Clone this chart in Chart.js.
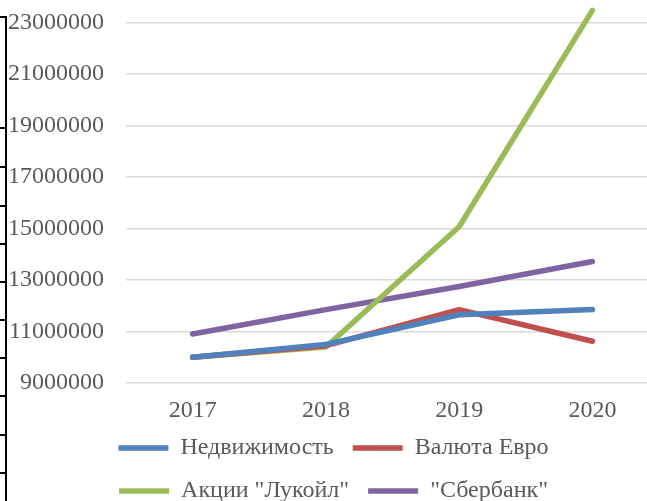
<!DOCTYPE html>
<html>
<head>
<meta charset="utf-8">
<script src="https://cdn.jsdelivr.net/npm/chart.js@4"></script>
<style>
  html, body { margin: 0; padding: 0; background: #fff; overflow: hidden; }
  body { width: 647px; height: 501px; position: relative; }
  #wrap { position: absolute; left: 0; top: -50px; width: 680px; height: 563px; }
  .frame { position: absolute; background: #000; }
</style>
</head>
<body>
<div id="wrap"><canvas id="chart"></canvas></div>
<div id="frame"></div>
<script>
"use strict";

// Chart data
const years = ['2017', '2018', '2019', '2020'];
const realEstate = [10000000, 10500000, 11650000, 11850000];
const euro = [10000000, 10450000, 11850000, 10620000];
const lukoil = [10000000, 10400000, 15070000, 23470000];
const sberbank = [10900000, 11850000, 12750000, 13720000];
const seriesNames = ['Недвижимость', 'Валюта Евро', 'Акции "Лукойл"', '"Сбербанк"'];
const seriesColors = ['#4f81bd', '#c0504d', '#9bbb59', '#8064a2'];

const textColor = '#595959';
const fontFamily = '"Liberation Serif", "Times New Roman", serif';

// Left border of the page table the chart was cut from
function drawFrame() {
  const frame = document.getElementById('frame');
  const addBar = (left, top, width, height) => {
    const bar = document.createElement('div');
    bar.className = 'frame';
    bar.style.cssText = `left:${left}px;top:${top}px;width:${width}px;height:${height}px`;
    frame.appendChild(bar);
  };
  addBar(5, 16, 2, 501 - 16);
  [16, 127, 166, 205, 243, 281, 319, 357, 395, 434, 472].forEach(y => addBar(0, y, 6, 2));
}

function makeDataset(name, values, color) {
  return {
    label: name,
    data: values,
    borderColor: color,
    backgroundColor: color,
    borderWidth: 5.5,
    borderCapStyle: 'round',
    borderJoinStyle: 'round',
    pointRadius: 0,
    tension: 0
  };
}

const ctx = document.getElementById('chart').getContext('2d');
new Chart(ctx, {
  type: 'line',
  data: {
    labels: years,
    datasets: [
      makeDataset(seriesNames[0], realEstate, seriesColors[0]),
      makeDataset(seriesNames[1], euro, seriesColors[1]),
      makeDataset(seriesNames[2], lukoil, seriesColors[2]),
      makeDataset(seriesNames[3], sberbank, seriesColors[3])
    ]
  },
  options: {
    responsive: true,
    maintainAspectRatio: false,
    animation: false,
    layout: { padding: { left: 8, right: 21, top: 21, bottom: 0 } },
    plugins: {
      tooltip: { enabled: false },
      legend: {
        position: 'bottom',
        labels: {
          usePointStyle: true,
          pointStyle: 'line',
          pointStyleWidth: 50,
          padding: 19,
          color: textColor,
          font: { family: fontFamily, size: 24 }
        }
      }
    },
    scales: {
      x: {
        offset: true,
        grid: { display: false, drawTicks: false },
        border: { display: false },
        ticks: {
          color: textColor,
          padding: 21,
          font: { family: fontFamily, size: 24, lineHeight: 0.6 }
        },
        afterFit: scale => { scale.height = 34; }
      },
      y: {
        min: 9000000,
        max: 25000000,
        grid: { color: '#d9d9d9', lineWidth: 1.5, drawTicks: false },
        border: { display: false },
        ticks: {
          stepSize: 2000000,
          color: textColor,
          padding: 22,
          font: { family: fontFamily, size: 24, lineHeight: 0.6 },
          callback: value => String(value)
        },
        afterFit: scale => {
          scale.width = 118;
          scale.paddingTop = 0;
        }
      }
    }
  }
});

drawFrame();
</script>
</body>
</html>
